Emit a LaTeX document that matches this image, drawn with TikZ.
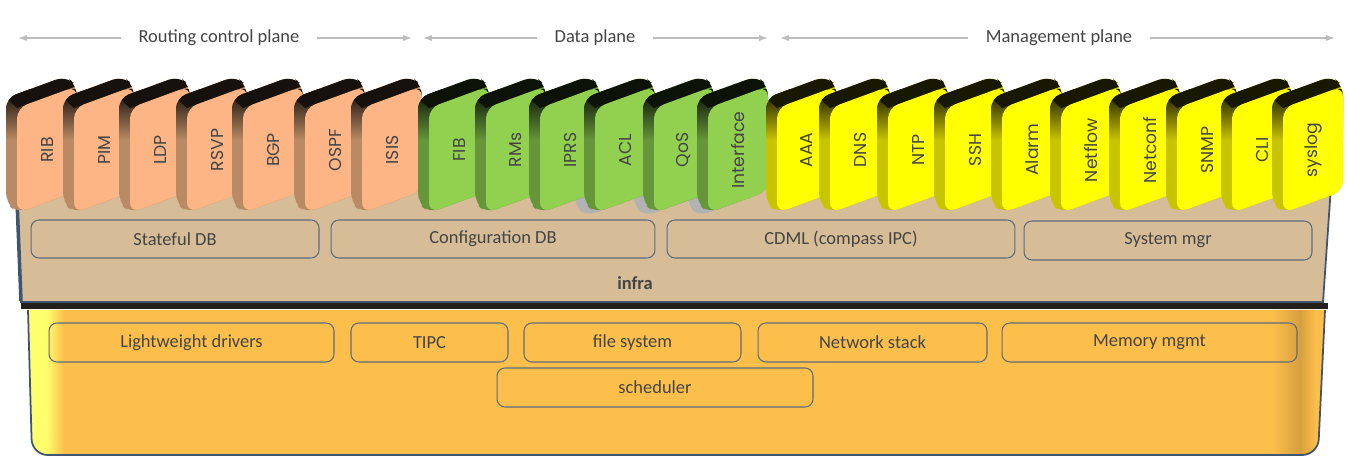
\documentclass[tikz,border=0pt]{standalone}
\usepackage{fontspec}
\setmainfont{Carlito}
\newfontfamily\tilefont{Poppins}
\usetikzlibrary{arrows.meta,positioning}
\usepackage{xcolor}
% plane colours
\definecolor{ctrlFront}{HTML}{FDB585}
\definecolor{ctrlSide}{HTML}{B98A63}
\definecolor{dataFront}{HTML}{92D050}
\definecolor{dataSide}{HTML}{65963A}
\definecolor{mgmtFront}{HTML}{FFFF00}
\definecolor{mgmtSide}{HTML}{C9C400}
\definecolor{infraFill}{HTML}{D6BD98}
\definecolor{infraEdge}{HTML}{3F5671}
\definecolor{blkEdge}{HTML}{5E6C7D}
\definecolor{osFill}{HTML}{FDBF4C}
\definecolor{osLight}{HTML}{FFFF6E}
\definecolor{osDark}{HTML}{D7A03E}
\definecolor{bandDark}{HTML}{231F1B}
\definecolor{hdrGray}{HTML}{BDBDBD}
\definecolor{txtGray}{HTML}{444444}
\tikzset{tempo/.style={}}

\begin{document}
\begin{tikzpicture}[
  x=0.02cm, y=-0.02cm,
  hdr/.style={text=txtGray, inner xsep=10pt, font=\fontsize{10.5}{12}\selectfont},
  hdrline/.style={draw=hdrGray, line width=0.7pt, -{Latex[length=5pt,width=3.5pt]}},
  blk/.style={draw=blkEdge, line width=0.6pt, rounded corners=4.5pt, inner sep=0pt,
    minimum height=0.78cm, text=txtGray, font=\fontsize{10.5}{12}\selectfont},
  tiletext/.style={rotate=90, text=txtGray, font=\tilefont\fontsize{9.8}{11}\selectfont}
]
\useasboundingbox[fill=white] (0,0) rectangle (1347,459);

% plane headers
\node[hdr] (rcp) at (219,38) {Routing control plane};
\coordinate (rcp-l) at (18,38);
\coordinate (rcp-r) at (412,38);
\node[hdr] (dp) at (595,38) {Data plane};
\coordinate (dp-l) at (423,38);
\coordinate (dp-r) at (768,38);
\node[hdr] (mp) at (1059,38) {Management plane};
\coordinate (mp-l) at (780,38);
\coordinate (mp-r) at (1335,38);
\draw[hdrline] (rcp) -- (rcp-l);
\draw[hdrline] (rcp) -- (rcp-r);
\draw[hdrline] (dp) -- (dp-l);
\draw[hdrline] (dp) -- (dp-r);
\draw[hdrline] (mp) -- (mp-l);
\draw[hdrline] (mp) -- (mp-r);

% os layer
\begin{scope}
  \clip (28,310) [rounded corners=9pt] -- (32,455) -- (1318,455) [sharp corners] -- (1325,310) -- cycle;
  \fill[osFill] (20,305) rectangle (1330,460);
  \fill[osLight] (20,305) rectangle (46,460);
  \shade[left color=osLight, right color=osFill] (46,305) rectangle (64,460);
  \shade[left color=osFill, right color=osDark] (1272,305) rectangle (1300,460);
  \shade[left color=osDark, right color=osFill] (1300,305) rectangle (1316,460);
\end{scope}
\draw[infraEdge, line width=1pt] (28,310) [rounded corners=9pt] -- (32,455) -- (1318,455) [sharp corners] -- (1325,310);

% infra layer
\fill[infraFill] (16,186) -- (1331,186) -- (1323,302) -- (21,302) -- cycle;
\draw[infraEdge, line width=1pt] (16,186) -- (21,302) -- (1323,302) -- (1331,186);
\draw[infraEdge, line width=2pt] (17,200) -- (21,301);
\fill[bandDark] (21,303) rectangle (1328,309);
\node[text=txtGray, font=\bfseries\fontsize{10.5}{12}\selectfont] (infra) at (635,283) {infra};

% infra blocks
\node[blk, minimum width=5.76cm, minimum height=0.76cm] (stateful) at (175,239) {Stateful DB};
\node[blk, minimum width=6.48cm, minimum height=0.76cm] (config) at (493,239) {Configuration DB};
\node[blk, minimum width=6.96cm, minimum height=0.76cm] (cdml) at (841,239) {CDML (compass IPC)};
\node[blk, minimum width=5.76cm] (sysmgr) at (1168,240.5) {System mgr};

% os blocks
\node[blk, minimum width=5.70cm] (drivers) at (191.5,342.5) {Lightweight drivers};
\node[blk, minimum width=3.14cm] (tipc) at (429.5,342.5) {TIPC};
\node[blk, minimum width=4.34cm] (fs) at (632.5,342.5) {file system};
\node[blk, minimum width=4.58cm] (netstack) at (872.5,342.5) {Network stack};
\node[blk, minimum width=5.90cm] (memmgmt) at (1149.5,342.5) {Memory mgmt};
\node[blk, minimum width=6.32cm] (sched) at (655,387.5) {scheduler};

% grey ghosts behind some data plane tiles
\foreach \cx in {625,684,738}{
  \fill[black!30, rounded corners=5pt, shift={(\cx-30,0)}]
    (-20,101) -- (40,79) -- (51,89) -- (51,194) -- (-9,216) -- (-20,206) -- cycle;
}

% protocol tiles, left to right so the right one sits in front
\foreach \cx/\lbl/\grp in {47/RIB/ctrl,104/PIM/ctrl,160/LDP/ctrl,217/RSVP/ctrl,
    273/BGP/ctrl,335/OSPF/ctrl,392/ISIS/ctrl,
    459/FIB/data,516/RMs/data,570/IPRS/data,625/ACL/data,684/QoS/data,738/Interface/data,
    807/AAA/mgmt,860/DNS/mgmt,918/NTP/mgmt,975/SSH/mgmt,1032/Alarm/mgmt,
    1091/Netflow/mgmt,1150/Netconf/mgmt,1207/SNMP/mgmt,1262/CLI/mgmt,1313/syslog/mgmt}{
  \begin{scope}[shift={(\cx-30,0)}]
    \begin{scope}
      \clip[rounded corners=6pt] (-11,98) -- (49,76) -- (60,86) -- (60,191) -- (0,213) -- (-11,203) -- cycle;
      \fill[\grp Side] (-12,70) rectangle (61,215);
      \shade[top color=\grp Side!10!black, bottom color=\grp Side] (-12,90) rectangle (61,140);
      \fill[\grp Side!12!black] (-11,98) -- (49,76) -- (60,86) -- (0,108) -- cycle;
    \end{scope}
    \fill[\grp Front, rounded corners=6pt] (0,108) -- (60,86) -- (60,191) -- (0,213) -- cycle;
    \node[tiletext] (t-\lbl) at (30,150) {\lbl};
  \end{scope}
}
\end{tikzpicture}
\end{document}
